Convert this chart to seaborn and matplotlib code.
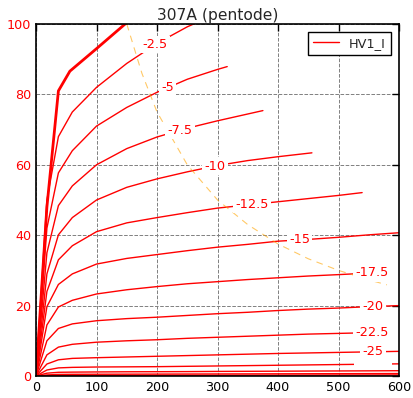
import numpy as np
import pandas as pd
import matplotlib
matplotlib.use("Agg")
import matplotlib.pyplot as plt
import seaborn as sns
from matplotlib.lines import Line2D

# plate curves of the 307A (pentode), plate volts vs plate mA, one list per grid bias
va_grid = [0, 18, 37, 60, 100, 150, 200, 250, 300, 350, 400, 450, 500, 550, 600]

va_g0 = [0, 18, 37, 56, 100, 150, 200]
ia_g0 = [0, 48, 81, 86.6, 93, 100.4, 107.8]

va_g2_5 = [0, 18, 37, 60, 100, 150, 200, 250, 300]
ia_g2_5 = [0, 50, 68, 75, 82, 88.8, 94.5, 99.2, 103]

va_g5 = [0, 18, 37, 60, 100, 150, 200, 250, 300, 316]
ia_g5 = [0, 42, 57.7, 64, 71, 76.3, 80.6, 84.3, 87.1, 87.9]

va_g7_5 = [0, 18, 37, 60, 100, 150, 200, 250, 300, 375]
ia_g7_5 = [0, 35, 48.4, 54, 60, 64.6, 67.9, 70.4, 72.5, 75.4]

va_g10 = [0, 18, 37, 60, 100, 150, 200, 250, 300, 350, 400, 456]
ia_g10 = [0, 29, 40.1, 45, 50, 53.6, 56, 58, 59.8, 61.2, 62.3, 63.4]

va_g12_5 = [0, 18, 37, 60, 100, 150, 200, 250, 300, 350, 400, 450, 500, 539]
ia_g12_5 = [0, 24, 33, 37, 41, 43.5, 45, 46.4, 47.7, 48.6, 49.5, 50.4, 51.3, 52.1]

ia_g15 = [0, 19.7, 26, 29, 31.8, 33.4, 34.5, 35.6, 36.6, 37.4, 38.3, 38.8, 39.4, 40.1, 40.7]

va_g17_5 = [0, 18, 37, 60, 100, 150, 200, 250, 300, 350, 400, 450, 500, 570]
ia_g17_5 = [0, 14.5, 19.6, 21.5, 23.3, 24.5, 25.4, 26.2, 26.8, 27.4, 27.9, 28.4, 28.8, 29.4]

ia_g20 = [0, 10, 13.5, 14.8, 15.7, 16.3, 16.7, 17.2, 17.7, 18.1, 18.6, 19.0, 19.3, 19.7, 20.0]

va_g22_5 = [0, 18, 37, 60, 100, 150, 200, 250, 300, 350, 400, 450, 500, 575]
ia_g22_5 = [0, 6, 8.2, 9, 9.6, 10, 10.3, 10.7, 11, 11.3, 11.6, 11.9, 12.1, 12.4]

ia_g25 = [0, 3.4, 4.6, 5, 5.2, 5.4, 5.6, 5.8, 6, 6.2, 6.4, 6.55, 6.7, 6.85, 7.0]
ia_g27_5 = [0, 1.7, 2.3, 2.45, 2.55, 2.6, 2.65, 2.75, 2.85, 2.95, 3.05, 3.15, 3.25, 3.35, 3.45]
ia_g30 = [0, 0.8, 1.05, 1.1, 1.15, 1.2, 1.22, 1.25, 1.3, 1.33, 1.36, 1.4, 1.43, 1.46, 1.5]
ia_g32_5 = [0, 0.3, 0.45, 0.48, 0.5, 0.52, 0.54, 0.56, 0.58, 0.6, 0.62, 0.64, 0.66, 0.68, 0.7]
ia_g35 = [0, 0.1, 0.15, 0.16, 0.17, 0.18, 0.19, 0.2, 0.21, 0.22, 0.24, 0.25, 0.27, 0.28, 0.3]
ia_g40 = [0, 0, 0, 0, 0, 0, 0, 0, 0, 0, 0, 0, 0, 0, 0]

# max plate dissipation line
pd_v = [150, 175, 200, 250, 300, 350, 400, 450, 500, 550, 580]
pd_i = [100, 86, 75, 60, 50, 43, 37.5, 33.3, 30, 27.3, 25.9]

# curve labels: text and the plate voltage where it sits
label_text = ["-2.5", "-5", "-7.5", "-10", "-12.5", "-15", "-17.5", "-20", "-22.5", "-25", "-27.5"]
label_v = [197, 217, 238, 296, 357, 436, 555, 557, 555, 557, 557]

curves = [
    (va_g2_5, ia_g2_5), (va_g5, ia_g5), (va_g7_5, ia_g7_5), (va_g10, ia_g10),
    (va_g12_5, ia_g12_5), (va_grid, ia_g15), (va_g17_5, ia_g17_5), (va_grid, ia_g20),
    (va_g22_5, ia_g22_5), (va_grid, ia_g25), (va_grid, ia_g27_5),
]
low_curves = [(va_grid, ia_g30), (va_grid, ia_g32_5), (va_grid, ia_g35), (va_grid, ia_g40)]

sns.set_style("white")
plt.rcParams['font.family'] = ['DejaVu Sans']

fig = plt.figure(figsize=(4.13, 3.98), dpi=100)
ax = fig.add_axes([0.0872, 0.0553, 0.879, 0.8844])

# 0 V curve drawn heavier
sns.lineplot(x=va_g0, y=ia_g0, ax=ax, color="red", lw=2, sort=False, estimator=None)
for va, ia in curves:
    sns.lineplot(x=va, y=ia, ax=ax, color="red", lw=1, sort=False, estimator=None)
# the lowest curves sit above the label boxes
for va, ia in low_curves:
    sns.lineplot(x=va, y=ia, ax=ax, color="red", lw=1, sort=False, estimator=None, zorder=6)

sns.lineplot(x=pd_v, y=pd_i, ax=ax, color="orange", lw=0.8, alpha=0.6,
             sort=False, estimator=None, linestyle=(0, (6, 5)))

for i, txt in enumerate(label_text):
    va, ia = curves[i]
    y = np.interp(label_v[i], va, ia)
    col = "white" if txt == "-27.5" else "red"
    ax.text(label_v[i], y, txt, color=col, fontsize=9.3, ha="center", va="center",
            zorder=5, bbox=dict(facecolor="white", edgecolor="none", pad=1.5))

ax.set_xlim(0, 600)
ax.set_ylim(0, 100)
ax.set_xticks([0, 100, 200, 300, 400, 500, 600])
ax.set_yticks([0, 20, 40, 60, 80, 100])
ax.grid(True, color="gray", linestyle="--", lw=0.7)
ax.tick_params(direction="in", length=5, width=1, top=True, right=True,
               labelsize=9.2, colors="black")
ax.tick_params(axis="y", labelcolor="red")
for sp in ax.spines.values():
    sp.set_color("black")
    sp.set_linewidth(1.2)
    sp.set_zorder(7)

ax.set_title("307A (pentode)", fontsize=11.2, pad=3)

handle = Line2D([], [], color="red", lw=1)
leg = ax.legend([handle], ["HV1_I"], loc="upper right", fontsize=9.3, fancybox=False,
                framealpha=1, borderaxespad=0.6)
leg.get_frame().set_edgecolor("black")
leg.get_frame().set_linewidth(1)

fig.savefig("out.png", dpi=100)
